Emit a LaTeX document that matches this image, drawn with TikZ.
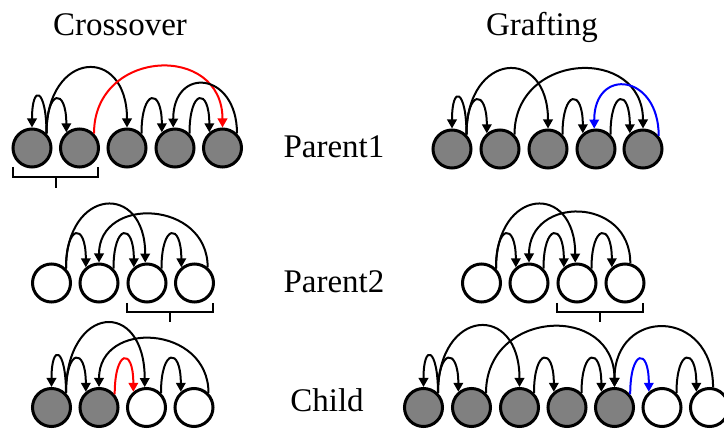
\documentclass[tikz,border=0pt]{standalone}
\usepackage{fontspec}
\setmainfont{Liberation Serif}
\usetikzlibrary{arrows.meta}

\definecolor{tokgray}{RGB}{128,128,128}

\tikzset{
  tok/.style={circle, draw=black, line width=3pt, minimum size=38pt, inner sep=0pt},
  full/.style={tok, fill=tokgray},
  empty/.style={tok, fill=white},
  arc/.style={line width=2pt, -{Triangle[length=9pt,width=9.5pt]}},
  redarc/.style={arc, draw=red, -{Triangle[length=9pt,width=9.5pt,fill=red]}},
  bluearc/.style={arc, draw=blue, -{Triangle[length=9pt,width=9.5pt,fill=blue]}},
  brace/.style={line width=2pt},
  lbl/.style={anchor=base, inner sep=0pt, font=\fontsize{33}{40}\selectfont}
}

\begin{document}
\begin{tikzpicture}[x=1pt, y=-1pt]
\useasboundingbox (0,0) rectangle (724,430);
\clip (0,0) rectangle (724,430);

% ---- headings and row labels ----
\node[lbl] (hcross) at (120,36) {Crossover};
\node[lbl] (hgraft) at (542,36) {Grafting};
\node[lbl] (lp1) at (334,158) {Parent1};
\node[lbl] (lp2) at (334,293) {Parent2};
\node[lbl] (lch) at (327,412) {Child};

% ================= Crossover =================
% Parent1
\node[full] (ca) at (32,148) {};
\node[full] (cb) at (79.5,148) {};
\node[full] (cc) at (127,148) {};
\node[full] (cd) at (175,148) {};
\node[full] (ce) at (222.5,148) {};
\draw[arc] (ca.45) .. controls +(0,-45) and +(0,-45) .. (ca.90);
\draw[arc] (ca.45) .. controls +(0,-45) and +(0,-45) .. (cb.130);
\draw[arc] (ca.45) .. controls +(0,-83) and +(0,-83) .. (cc.90);
\draw[redarc] (cb.45) .. controls +(0,-85) and +(0,-85) .. (ce.90);
\draw[arc] (cc.45) .. controls +(0,-45) and +(0,-45) .. (cd.130);
\draw[arc] (ce.45) .. controls +(0,-62) and +(0,-62) .. (cd.95);
\draw[arc] (cd.45) .. controls +(0,-45) and +(0,-45) .. (ce.130);
\draw[brace] (13,167) -- (13,177) -- (98,177) -- (98,167);
\draw[brace] (55.5,177) -- (55.5,188);

% Parent2
\node[empty] (cpa) at (51.5,283) {};
\node[empty] (cpb) at (99,283) {};
\node[empty] (cpc) at (147,283) {};
\node[empty] (cpd) at (194.5,283) {};
\draw[arc] (cpa.45) .. controls +(0,-45) and +(0,-45) .. (cpb.130);
\draw[arc] (cpa.45) .. controls +(0,-81) and +(0,-81) .. (cpc.95);
\draw[arc] (cpd.50) .. controls +(0,-67) and +(0,-67) .. (cpb.90);
\draw[arc] (cpb.45) .. controls +(0,-45) and +(0,-45) .. (cpc.130);
\draw[arc] (cpc.45) .. controls +(0,-45) and +(0,-45) .. (cpd.130);
\draw[brace] (127,303) -- (127,312) -- (213,312) -- (213,303);
\draw[brace] (170,312) -- (170,322);

% Child
\node[full] (cka) at (51.5,407.5) {};
\node[full] (ckb) at (99,407.5) {};
\node[empty] (ckc) at (146.5,407.5) {};
\node[empty] (ckd) at (194,407.5) {};
\draw[arc] (cka.45) .. controls +(0,-45) and +(0,-45) .. (cka.90);
\draw[arc] (cka.45) .. controls +(0,-45) and +(0,-45) .. (ckb.130);
\draw[arc] (cka.45) .. controls +(0,-89) and +(0,-89) .. (ckc.95);
\draw[arc] (ckd.45) .. controls +(0,-68) and +(0,-68) .. (ckb.90);
\draw[redarc] (ckb.40) .. controls +(0,-45) and +(0,-45) .. (ckc.130);
\draw[arc] (ckc.45) .. controls +(0,-45) and +(0,-45) .. (ckd.130);

% ================= Grafting =================
% Parent1
\node[full] (ga) at (452,149) {};
\node[full] (gb) at (500,149) {};
\node[full] (gc) at (548,149) {};
\node[full] (gd) at (596,149) {};
\node[full] (ge) at (643,149) {};
\draw[arc] (ga.45) .. controls +(0,-45) and +(0,-45) .. (ga.90);
\draw[arc] (ga.45) .. controls +(0,-45) and +(0,-45) .. (gb.130);
\draw[arc] (ga.45) .. controls +(0,-83) and +(0,-83) .. (gc.90);
\draw[arc] (gb.45) .. controls +(0,-83) and +(0,-83) .. (ge.90);
\draw[arc] (gc.45) .. controls +(0,-45) and +(0,-45) .. (gd.130);
\draw[bluearc] (ge.40) .. controls +(0,-62) and +(0,-62) .. (gd.95);
\draw[arc] (gd.45) .. controls +(0,-45) and +(0,-45) .. (ge.130);

% Parent2
\node[empty] (gpa) at (481.5,283) {};
\node[empty] (gpb) at (529,283) {};
\node[empty] (gpc) at (577,283) {};
\node[empty] (gpd) at (625,283) {};
\draw[arc] (gpa.45) .. controls +(0,-45) and +(0,-45) .. (gpb.130);
\draw[arc] (gpa.45) .. controls +(0,-81) and +(0,-81) .. (gpc.95);
\draw[arc] (gpd.75) .. controls +(0,-67) and +(0,-67) .. (gpb.90);
\draw[arc] (gpb.45) .. controls +(0,-45) and +(0,-45) .. (gpc.130);
\draw[arc] (gpc.45) .. controls +(0,-45) and +(0,-45) .. (gpd.130);
\draw[brace] (557,303) -- (557,312) -- (643,312) -- (643,303);
\draw[brace] (600,312) -- (600,322);

% Child
\node[full] (gka) at (423.5,407.5) {};
\node[full] (gkb) at (471.5,407.5) {};
\node[full] (gkc) at (519.5,407.5) {};
\node[full] (gkd) at (567,407.5) {};
\node[full] (gke) at (614.5,407.5) {};
\node[empty] (gkf) at (662,407.5) {};
\node[empty] (gkg) at (709.5,407.5) {};
\draw[arc] (gka.45) .. controls +(0,-45) and +(0,-45) .. (gka.90);
\draw[arc] (gka.45) .. controls +(0,-45) and +(0,-45) .. (gkb.130);
\draw[arc] (gka.45) .. controls +(0,-85) and +(0,-85) .. (gkc.90);
\draw[arc] (gkb.45) .. controls +(0,-84) and +(0,-84) .. (gke.90);
\draw[arc] (gkc.45) .. controls +(0,-45) and +(0,-45) .. (gkd.130);
\draw[arc] (gkd.45) .. controls +(0,-45) and +(0,-45) .. (gke.130);
\draw[arc] (gkg.80) .. controls +(0,-80) and +(0,-80) .. (gke.90);
\draw[bluearc] (gke.40) .. controls +(0,-45) and +(0,-45) .. (gkf.130);
\draw[arc] (gkf.45) .. controls +(0,-45) and +(0,-45) .. (gkg.130);
\end{tikzpicture}
\end{document}
